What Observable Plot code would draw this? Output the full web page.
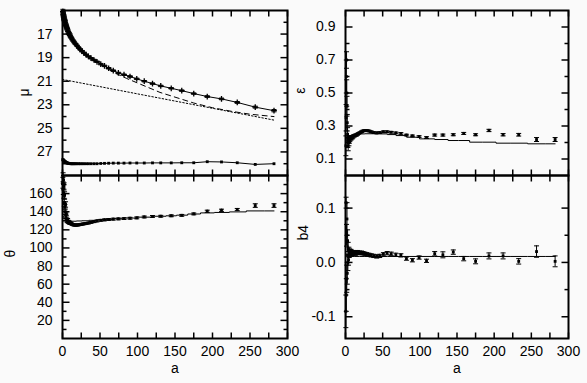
<!DOCTYPE html>
<html><head><meta charset="utf-8">
<script src="https://cdn.jsdelivr.net/npm/d3@7"></script>
<script src="https://cdn.jsdelivr.net/npm/@observablehq/plot@0.6"></script>
<style>
body{margin:0;background:#fafafa;}
#chart{position:relative;width:587px;height:383px;background:#fafafa;overflow:hidden;}
#chart svg{position:absolute;left:0;top:0;}
</style></head><body><div id="chart"></div>
<script>
// ---- radii of isophote fits (a) ----
const aData = [0.5,0.8,1.1,1.4,1.7, 2.0,2.4,2.8,3.2,3.6, 4.1,4.6,5.1,5.6,6.2, 6.8,7.5,8.3,9.1,10, 11,12.1,13.3,14.7,16.1, 17.7,19.5,21.5,23.6,26, 28.5,31.4,34.5,38,42, 46,51,56,61.5,67.7, 74.5,82,90,99,109, 120,131,145,159,175, 193,212,233,257,282];

// ---- surface brightness mu ----
const muData = [15.1,15.2,15.35,15.45,15.55, 15.65,15.75,15.85,15.95,16.05, 16.15,16.25,16.35,16.45,16.55, 16.65,16.8,16.9,17.0,17.1, 17.25,17.35,17.5,17.6,17.75, 17.85,18.0,18.15,18.3,18.45, 18.6,18.75,18.9,19.05,19.2, 19.35,19.55,19.7,19.9,20.1, 20.3,20.45,20.6,20.8,21.0, 21.2,21.4,21.6,21.8,22.05, 22.3,22.5,22.8,23.2,23.5];
const muErr = [0.2,0.2,0.2,0.2,0.2, 0.2,0.2,0.2,0.2,0.2, 0.12,0.12,0.12,0.12,0.12, 0.12,0.12,0.12,0.12,0.12, 0.08,0.08,0.08,0.08,0.08, 0.06,0.06,0.06,0.06,0.06, 0.06,0.06,0.06,0.06,0.06, 0.06,0.06,0.06,0.06,0.06, 0.06,0.06,0.06,0.06,0.06, 0.06,0.06,0.06,0.06,0.06, 0.07,0.07,0.08,0.08,0.1];
const aDash = [40,55,70,85,100,115,130,150,175,200,225,250,282];
const muDash = [19.2,19.75,20.3,20.75,21.15,21.55,21.95,22.35,22.85,23.25,23.55,23.8,24.0];
const aDot = [0,282];
const muDot = [20.85,24.3];
const muBot = [27.65,27.68,27.7,27.72,27.74, 27.76,27.78,27.8,27.82,27.84, 27.86,27.88,27.9,27.92,27.94, 27.95,27.96,27.97,27.98,27.99, 28.0,28.0,28.0,28.0,28.0, 28.0,28.0,28.0,28.0,28.0, 28.0,28.0,28.0,28.0,28.0, 28.0,27.98,27.97,27.96,27.95, 27.95,27.95,27.94,27.94,27.94, 27.93,27.93,27.93,27.92,27.92, 27.83,27.85,27.92,28.06,28.0];

// ---- ellipticity ----
const epsData = [0.18,0.35,0.6,0.7,0.5, 0.42,0.32,0.25,0.2,0.18, 0.22,0.2,0.21,0.22,0.22, 0.23,0.225,0.23,0.23,0.235, 0.24,0.24,0.245,0.245,0.25, 0.255,0.26,0.265,0.27,0.272, 0.272,0.27,0.265,0.26,0.258, 0.26,0.265,0.265,0.262,0.258, 0.255,0.245,0.24,0.236,0.23, 0.245,0.245,0.247,0.255,0.247, 0.273,0.247,0.247,0.218,0.218];
const epsErr = [0.06,0.08,0.1,0.05,0.08, 0.06,0.05,0.04,0.03,0.03, 0.02,0.02,0.015,0.015,0.01, 0.01,0.01,0.008,0.008,0.008, 0.006,0.006,0.006,0.006,0.006, 0.005,0.005,0.005,0.005,0.005, 0.005,0.005,0.005,0.005,0.005, 0.005,0.005,0.005,0.005,0.005, 0.005,0.005,0.005,0.005,0.005, 0.006,0.006,0.006,0.006,0.006, 0.007,0.007,0.008,0.012,0.012];

// ---- position angle ----
const thetaData = [172,178,165,175,160, 168,150,158,145,140, 148,135,138,132,130, 131,129,128.5,128,127.5, 127,126.5,126,125.5,125.3, 125.2,125.3,125.5,125.8,126.2, 126.6,127,127.5,128.2,129, 129.8,130.5,131,131.4,131.8, 132.1,132.4,132.8,133.2,134.2, 134.8,135,135.5,136,137.6, 140.5,141.6,142.4,146.8,146.8];
const thetaErr = [6,5,6,5,5, 4,4,4,3,3, 3,2.5,2,2,2, 1.5,1.5,1.5,1.5,1.5, 1,1,1,1,1, 1,1,1,1,1, 1,1,1,1,1, 1,1,1,1,1, 1,1,1,1,1, 1,1,1,1,1, 1.2,1.2,1.2,2,2];

// ---- b4 ----
const b4Data = [-0.09,0.11,-0.06,0.05,-0.03, 0.08,-0.02,0.04,0.0,0.025, 0.005,0.02,0.015,0.02,0.018, 0.015,0.02,0.017,0.016,0.018, 0.019,0.017,0.016,0.018,0.019, 0.018,0.017,0.018,0.017,0.016, 0.015,0.014,0.013,0.012,0.011, 0.012,0.015,0.017,0.016,0.014, 0.013,0.007,0.004,0.009,0.003, 0.016,0.014,0.019,0.007,0.002, 0.012,0.012,0.002,0.02,0.002];
const b4Err = [0.03,0.01,0.03,0.02,0.025, 0.03,0.02,0.02,0.015,0.012, 0.01,0.008,0.006,0.005,0.005, 0.004,0.004,0.004,0.004,0.004, 0.003,0.003,0.003,0.003,0.003, 0.003,0.003,0.003,0.003,0.003, 0.003,0.003,0.003,0.003,0.003, 0.003,0.003,0.003,0.003,0.003, 0.003,0.003,0.003,0.003,0.003, 0.004,0.0055,0.004,0.004,0.0045, 0.0055,0.0055,0.005,0.0105,0.01];

// ---- model profiles ----
const modelA = [0.5,3,6,10,15,22,30,40,51,61.5,74.5,90,109,131,145,159,175,193,212,233,257,282];
const modelEps = [0.22,0.235,0.24,0.245,0.25,0.252,0.253,0.253,0.252,0.248,0.242,0.232,0.222,0.218,0.212,0.212,0.202,0.202,0.196,0.196,0.192,0.192];
const modelTheta = [135,132,130,129.5,129.5,129.8,130,130.5,131,131.5,132.3,133,134,135,135.5,136.2,137.5,138.7,139.2,139.8,140.9,140.9];
const modelB4 = [0.011,0.011,0.011,0.011,0.011,0.011,0.011,0.011,0.011,0.011,0.011,0.011,0.011,0.011,0.011,0.011,0.011,0.011,0.011,0.011,0.011,0.011];

// ---- ticks ----
const xTicks = [0,25,50,75,100,125,150,175,200,225,250,275,300];
const xLabels = [0,50,100,150,200,250,300];
const muMajor = [17,19,21,23,25,27], muMinor = [16,18,20,22,24,26,28];
const epsMajor = [0.1,0.3,0.5,0.7,0.9], epsMinor = [0.2,0.4,0.6,0.8];
const thMajor = [20,40,60,80,100,120,140,160], thMinor = [10,30,50,70,90,110,130,150,170];
const b4Major = [-0.1,0.0,0.1], b4Minor = [-0.05,0.05];

const FONT = "'Liberation Sans', Arial, Helvetica, sans-serif";
const W = 587, H = 383;
const seg = (dx, dy) => ({draw(ctx, size){const r = Math.sqrt(size/Math.PI); ctx.moveTo(0,0); ctx.lineTo(dx*r, dy*r);}});
const capSym = {draw(ctx, size){const r = Math.sqrt(size/Math.PI); ctx.moveTo(-r,0); ctx.lineTo(r,0);}};
const rows = (xs, ys, es) => xs.map((x,i) => ({a: x, v: ys[i], e: es ? es[i] : 0}));

function errMarks(data, pointOpts){
  return [
    Plot.ruleX(data, {x: "a", y1: d => d.v - d.e, y2: d => d.v + d.e, stroke: "black", strokeWidth: 1}),
    Plot.dot(data, {x: "a", y: d => d.v - d.e, symbol: capSym, r: 2.5, stroke: "black", fill: "none", strokeWidth: 1}),
    Plot.dot(data, {x: "a", y: d => d.v + d.e, symbol: capSym, r: 2.5, stroke: "black", fill: "none", strokeWidth: 1}),
    Plot.dot(data, {x: "a", y: "v", ...pointOpts})
  ];
}

function panel(o){
  const tickM = [
    Plot.dot(xTicks, {x: d => d, frameAnchor: "bottom", symbol: seg(0,-1), r: 6, stroke: "black", fill: "none", strokeWidth: 1.5}),
    Plot.dot(xTicks, {x: d => d, frameAnchor: "top", symbol: seg(0,1), r: 6, stroke: "black", fill: "none", strokeWidth: 1.5}),
    Plot.dot(o.yMajor, {y: d => d, frameAnchor: "left", symbol: seg(1,0), r: 7, stroke: "black", fill: "none", strokeWidth: 1.5}),
    Plot.dot(o.yMajor, {y: d => d, frameAnchor: "right", symbol: seg(-1,0), r: 7, stroke: "black", fill: "none", strokeWidth: 1.5}),
    Plot.dot(o.yMinor, {y: d => d, frameAnchor: "left", symbol: seg(1,0), r: 4, stroke: "black", fill: "none", strokeWidth: 1.5}),
    Plot.dot(o.yMinor, {y: d => d, frameAnchor: "right", symbol: seg(-1,0), r: 4, stroke: "black", fill: "none", strokeWidth: 1.5})
  ];
  const labelM = [Plot.text([o.yLabel], {frameAnchor: "left", dx: o.ldx, dy: o.ldy, rotate: -90, fontSize: 14, fill: "black"})];
  if (o.bottom) labelM.push(Plot.text(["a"], {frameAnchor: "bottom", dy: 34, fontSize: 14, fill: "black"}));
  return Plot.plot({
    width: W, height: H,
    marginLeft: o.ml, marginRight: o.mr, marginTop: o.mt, marginBottom: o.mb,
    style: {background: "transparent", fontFamily: FONT, fontSize: "14px", color: "black", overflow: "visible"},
    x: {domain: [0,300], ticks: o.bottom ? xLabels : [], tickSize: 0, tickPadding: 8, label: null, axis: o.bottom ? "bottom" : null},
    y: {domain: o.yDomain, reverse: !!o.reverse, ticks: o.yMajor, tickSize: 0, tickPadding: 10, tickFormat: o.fmt, label: null},
    marks: [...o.marks, ...tickM, Plot.frame({stroke: "black", strokeWidth: 2}), ...labelM]
  });
}

const host = document.getElementById("chart");
const mu = rows(aData, muData, muErr);
const bot = rows(aData, muBot);
host.append(panel({
  ml: 62, mr: 300, mt: 10, mb: 208, yDomain: [15,29], reverse: true,
  yMajor: muMajor, yMinor: muMinor, fmt: d => String(d), yLabel: "μ", ldx: -38, ldy: 3.5,
  marks: [
    Plot.line(rows(aDot, muDot), {x: "a", y: "v", stroke: "black", strokeWidth: 1, strokeDasharray: "1.5,2"}),
    Plot.line(rows(aDash, muDash), {x: "a", y: "v", stroke: "black", strokeWidth: 1, strokeDasharray: "5,4"}),
    Plot.line(mu, {x: "a", y: "v", stroke: "black", strokeWidth: 1}),
    ...errMarks(mu, {symbol: "plus", r: 2, stroke: "black", strokeWidth: 1.3}),
    Plot.line(bot, {x: "a", y: "v", stroke: "black", strokeWidth: 1}),
    Plot.dot(bot, {x: "a", y: "v", symbol: "square", r: 1.6, fill: "black"})
  ]
}));

const th = rows(aData, thetaData, thetaErr);
host.append(panel({
  ml: 62, mr: 300, mt: 175, mb: 45, yDomain: [0,180], bottom: true,
  yMajor: thMajor, yMinor: thMinor, fmt: d => String(d), yLabel: "θ", ldx: -52, ldy: 0.5,
  marks: [
    Plot.line(rows(modelA, modelTheta), {x: "a", y: "v", curve: "step", stroke: "black", strokeWidth: 1}),
    ...errMarks(th, {symbol: "square", r: 1.6, fill: "black"})
  ]
}));

const ep = rows(aData, epsData, epsErr);
host.append(panel({
  ml: 345, mr: 19, mt: 10, mb: 208, yDomain: [0,1],
  yMajor: epsMajor, yMinor: epsMinor, fmt: d => d.toFixed(1), yLabel: "ε", ldx: -45, ldy: 0.8,
  marks: [
    Plot.line(rows(modelA, modelEps), {x: "a", y: "v", curve: "step", stroke: "black", strokeWidth: 1}),
    ...errMarks(ep, {symbol: "square", r: 1.6, fill: "black"})
  ]
}));

const b4 = rows(aData, b4Data, b4Err);
host.append(panel({
  ml: 345, mr: 19, mt: 175, mb: 45, yDomain: [-0.14,0.16], bottom: true,
  yMajor: b4Major, yMinor: b4Minor, fmt: d => d.toFixed(1), yLabel: "b4", ldx: -42, ldy: -16.5,
  marks: [
    Plot.line(rows(modelA, modelB4), {x: "a", y: "v", curve: "step", stroke: "black", strokeWidth: 1}),
    ...errMarks(b4, {symbol: "square", r: 1.6, fill: "black"})
  ]
}));
</script></body></html>
